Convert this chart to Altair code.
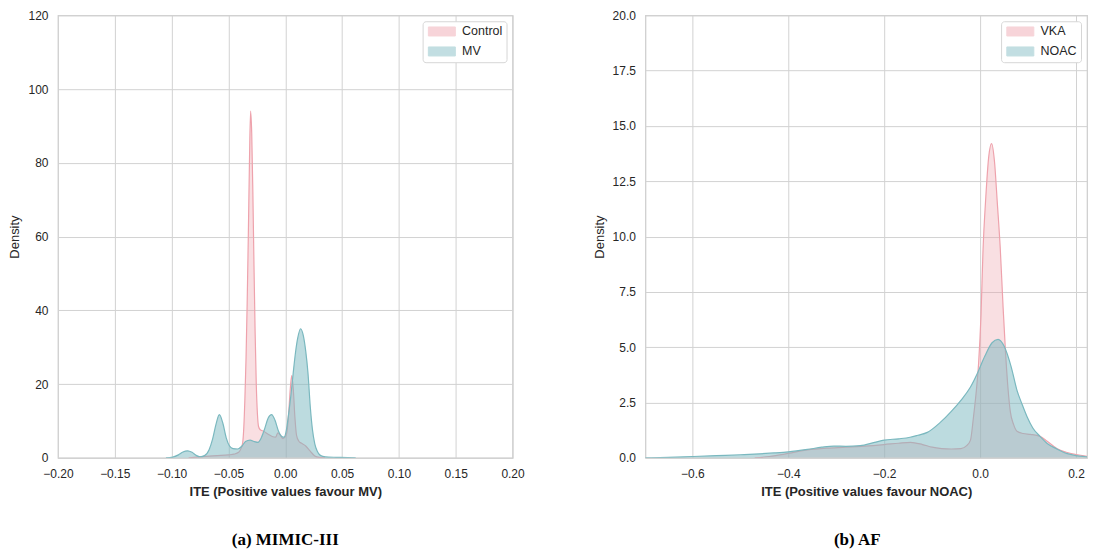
import altair as alt
import pandas as pd

# ---------------- Panel (a) MIMIC-III ----------------
a_groups = ["Control", "MV"]
a_control_x = [-0.085, -0.078, -0.070, -0.060, -0.050, -0.045, -0.041, -0.039, -0.0375, -0.0365,
               -0.0355, -0.0345, -0.0335, -0.0325, -0.0315, -0.0305, -0.0295, -0.0285, -0.0275,
               -0.0265, -0.0255, -0.0245, -0.0235, -0.022, -0.019, -0.015, -0.0115, -0.0085,
               -0.0065, -0.0045, -0.002, 0.0005, 0.0015, 0.003, 0.0045, 0.0057, 0.007, 0.0085,
               0.010, 0.012, 0.014, 0.018, 0.022, 0.026, 0.030, 0.035]
a_control_y = [0.0, 0.2, 0.4, 0.6, 0.8, 1.0, 1.5, 2.5, 4.0, 8.0,
               16.0, 27.0, 42.0, 60.0, 80.0, 94.0, 88.0, 72.0, 52.0,
               34.0, 20.0, 12.0, 8.5, 7.6, 7.2, 6.4, 5.8, 5.6,
               6.8, 6.2, 5.2, 6.0, 7.0, 12.0, 19.0, 22.3, 19.0, 11.0,
               6.0, 4.5, 4.0, 3.2, 1.8, 0.5, 0.1, 0.0]
a_mv_x = [-0.105, -0.099, -0.094, -0.090, -0.086, -0.082, -0.078, -0.075, -0.071, -0.067,
          -0.064, -0.061, -0.058, -0.055, -0.052, -0.049, -0.046, -0.042, -0.038, -0.035,
          -0.031, -0.027, -0.024, -0.021, -0.018, -0.015, -0.012, -0.009, -0.006, -0.003,
          -0.001, 0.001, 0.003, 0.005, 0.007, 0.009, 0.011, 0.0135, 0.016, 0.018,
          0.020, 0.022, 0.024, 0.026, 0.028, 0.030, 0.033, 0.038, 0.045, 0.055, 0.062]
a_mv_y = [0.0, 0.2, 0.8, 1.6, 1.9, 1.5, 0.6, 0.3, 0.6, 2.2,
          5.0, 9.0, 11.7, 9.5, 5.5, 3.2, 2.5, 2.4, 3.2, 4.4,
          4.8, 4.4, 4.2, 5.5, 8.0, 10.8, 11.7, 10.2, 7.3, 5.8,
          5.6, 7.5, 12.0, 17.0, 23.0, 28.5, 32.5, 35.0, 33.0, 29.0,
          23.0, 14.0, 7.5, 3.8, 1.9, 0.9, 0.4, 0.2, 0.15, 0.08, 0.0]
a_xticks = [-0.20, -0.15, -0.10, -0.05, 0.00, 0.05, 0.10, 0.15, 0.20]
a_yticks = [0, 20, 40, 60, 80, 100, 120]

# ---------------- Panel (b) AF ----------------
b_groups = ["VKA", "NOAC"]
b_vka_x = [-0.47, -0.44, -0.40, -0.36, -0.32, -0.28, -0.24, -0.20, -0.17, -0.145,
           -0.12, -0.10, -0.08, -0.06, -0.04, -0.028, -0.02, -0.014, -0.008, -0.003,
           0.002, 0.006, 0.012, 0.018, 0.024, 0.030, 0.036, 0.042, 0.048, 0.053,
           0.058, 0.063, 0.070, 0.077, 0.09, 0.105, 0.125, 0.14, 0.16, 0.18,
           0.20, 0.22, 0.245]
b_vka_y = [0.0, 0.06, 0.2, 0.36, 0.44, 0.48, 0.53, 0.6, 0.66, 0.7,
           0.6, 0.48, 0.42, 0.4, 0.42, 0.55, 0.8, 1.8, 3.0, 4.3,
           6.5, 9.3, 11.8, 13.6, 14.2, 13.4, 11.5, 9.5, 6.8, 4.8,
           3.2, 2.1, 1.5, 1.2, 1.1, 1.06, 0.97, 0.75, 0.42, 0.25,
           0.15, 0.08, 0.03]
b_noac_x = [-0.70, -0.65, -0.60, -0.55, -0.50, -0.46, -0.43, -0.40, -0.36, -0.33,
            -0.305, -0.28, -0.25, -0.22, -0.20, -0.17, -0.146, -0.13, -0.11, -0.083,
            -0.06, -0.04, -0.02, -0.006, 0.01, 0.025, 0.0375, 0.05, 0.065, 0.077,
            0.088, 0.098, 0.11, 0.125, 0.14, 0.16, 0.18, 0.20, 0.22, 0.245]
b_noac_y = [0.0, 0.02, 0.06, 0.1, 0.14, 0.18, 0.22, 0.27, 0.38, 0.48,
            0.53, 0.52, 0.55, 0.7, 0.8, 0.86, 0.93, 1.02, 1.15, 1.6,
            2.1, 2.6, 3.2, 3.8, 4.6, 5.2, 5.35, 5.05, 4.1, 3.05,
            2.4, 1.86, 1.35, 0.97, 0.65, 0.4, 0.2, 0.1, 0.05, 0.02]
b_xticks = [-0.6, -0.4, -0.2, 0.0, 0.2]
b_yticks = [0.0, 2.5, 5.0, 7.5, 10.0, 12.5, 15.0, 17.5, 20.0]

PINK = "#eea2ac"
TEAL = "#7ab8bf"
FILL_OPACITY = [0.35, 0.5]
RECT = "M-3,-1L3,-1L3,1L-3,1Z"


def panel(groups, series, xdom, ydom, xticks, yticks, xfmt, yfmt, xtitle, caption,
          width, height, caption_dx):
    cscale = alt.Scale(domain=groups, range=[PINK, TEAL])
    legend = alt.Legend(title=None)
    x_enc = alt.X("x:Q", scale=alt.Scale(domain=xdom, nice=False, zero=False),
                  axis=alt.Axis(values=xticks, format=xfmt, title=xtitle,
                                titleFontWeight="bold", titleFontSize=13, labelPadding=11))
    y_enc = alt.Y("d:Q", scale=alt.Scale(domain=ydom, nice=False, zero=False),
                  axis=alt.Axis(values=yticks, format=yfmt, title="Density",
                                titleFontWeight="normal", titleFontSize=13, labelPadding=10))
    layers = []
    for i, (g, (xs, ys)) in enumerate(zip(groups, series)):
        df = pd.DataFrame({"x": xs, "d": ys, "g": g})
        base = alt.Chart(df)
        area = base.mark_area(interpolate="monotone", fillOpacity=FILL_OPACITY[i], clip=True).encode(
            x=x_enc, y=y_enc,
            fill=alt.Fill("g:N", scale=cscale, legend=legend),
        )
        line = base.mark_line(interpolate="monotone", strokeWidth=1.2, clip=True).encode(
            x=x_enc, y=y_enc,
            stroke=alt.Stroke("g:N", scale=cscale, legend=legend),
        )
        layers += [area, line]
    return alt.layer(*layers).properties(
        width=width, height=height,
        title=alt.Title(caption, orient="bottom", font="Liberation Serif", fontSize=17,
                        fontWeight="bold", color="black", offset=33, anchor="middle",
                        frame="group", dx=caption_dx),
    )


left = panel(a_groups, [(a_control_x, a_control_y), (a_mv_x, a_mv_y)],
             [-0.20, 0.20], [0, 120], a_xticks, a_yticks, ".2f", "d",
             "ITE (Positive values favour MV)", "(a) MIMIC-III", 455, 443, 0)
right = panel(b_groups, [(b_vka_x, b_vka_y), (b_noac_x, b_noac_y)],
              [-0.698, 0.223], [0, 20], b_xticks, b_yticks, ".1f", ".1f",
              "ITE (Positive values favour NOAC)", "(b) AF", 442, 443, -9)

chart = (
    alt.hconcat(left, right, spacing=67)
    .resolve_scale(x="independent", y="independent", fill="independent", stroke="independent")
    .resolve_legend(fill="independent", stroke="independent")
    .properties(padding={"left": 0, "top": 0, "right": 0, "bottom": 0})
    .configure(font="Liberation Sans")
    .configure_view(stroke="#cccccc", strokeWidth=1.2)
    .configure_axis(grid=True, gridColor="#d2d2d2", gridWidth=1, domain=False, ticks=False,
                    tickSize=0, labelFontSize=12, labelColor="#262626", titleColor="#262626",
                    titlePadding=6, labelFlush=False, labelOverlap=False)
    .configure_legend(orient="top-right", offset=6, padding=4, strokeColor="#d6d6d6",
                      cornerRadius=3, fillColor="white", labelFontSize=12.5,
                      labelColor="#262626", symbolType=RECT, symbolSize=81,
                      symbolOffset=9, symbolOpacity=0.45, symbolStrokeWidth=1,
                      rowPadding=6, labelOffset=14)
)

chart.save("out.html", embed_options={"renderer": "svg", "actions": False})
